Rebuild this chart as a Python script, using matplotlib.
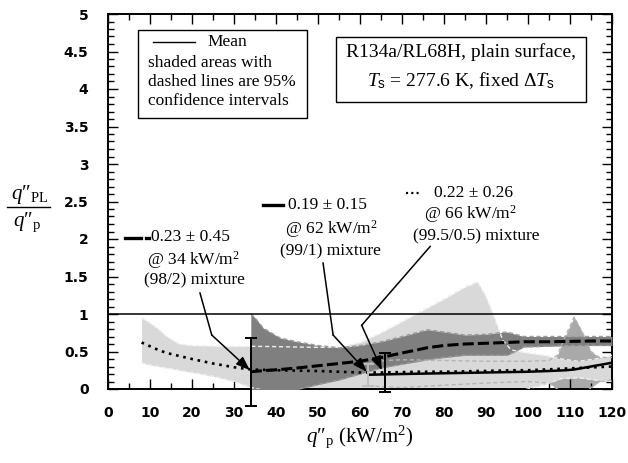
import matplotlib
matplotlib.use("Agg")
import matplotlib.pyplot as plt
from matplotlib.lines import Line2D
from matplotlib.patches import Rectangle
from matplotlib.ticker import MultipleLocator, FuncFormatter

plt.rcParams['mathtext.fontset'] = 'custom'
plt.rcParams['mathtext.rm'] = 'Liberation Serif'
plt.rcParams['mathtext.it'] = 'Liberation Serif:italic'
plt.rcParams['mathtext.bf'] = 'Liberation Serif:bold'
plt.rcParams['mathtext.sf'] = 'Liberation Sans'
plt.rcParams['mathtext.fallback'] = 'stix'
plt.rcParams['font.family'] = ['Liberation Serif', 'DejaVu Sans']
plt.rcParams['lines.scale_dashes'] = False

# ---------------- data ----------------
# (99.5/0.5) mixture - dotted mean, light CI
x_dot = [8, 10, 12, 14, 17, 20, 25, 30, 34, 40, 45, 50, 55, 60, 65, 70, 74, 80, 85, 88,
         90, 92, 93, 94, 96, 100, 104, 108, 112, 116, 120]
mean_dot = [0.62, 0.57, 0.52, 0.48, 0.44, 0.40, 0.34, 0.29, 0.26, 0.25, 0.245, 0.24, 0.23, 0.22,
            0.22, 0.225, 0.23, 0.23, 0.235, 0.24, 0.24, 0.245, 0.245, 0.245, 0.25, 0.25, 0.26,
            0.27, 0.28, 0.29, 0.30]
upper_dot = [0.95, 0.88, 0.80, 0.70, 0.60, 0.58, 0.575, 0.57, 0.57, 0.565, 0.56, 0.555, 0.56,
             0.62, 0.75, 0.90, 1.02, 1.20, 1.36, 1.43, 1.23, 0.95, 0.80, 0.65, 0.52, 0.48, 0.45,
             0.40, 0.37, 0.40, 0.45]
lower_dot = [0.35, 0.32, 0.30, 0.28, 0.25, 0.22, 0.17, 0.10, 0.02, -0.05, -0.08, -0.10, -0.10,
             -0.10, -0.10, -0.10, -0.10, -0.10, -0.10, -0.10, -0.10, -0.10, -0.10, -0.08, -0.05,
             0.00, 0.06, 0.14, 0.15, 0.12, 0.10]

# (98/2) mixture - dashed mean, dark CI
x_dash = [34, 35, 37, 41, 45, 50, 55, 60, 65, 70, 76, 80, 85, 90, 95, 97, 99, 105, 110, 115, 120]
mean_dash = [0.23, 0.235, 0.245, 0.26, 0.28, 0.31, 0.34, 0.37, 0.42, 0.48, 0.55, 0.58, 0.60,
             0.61, 0.62, 0.625, 0.63, 0.63, 0.635, 0.64, 0.64]
upper_dash = [1.00, 0.95, 0.81, 0.68, 0.63, 0.58, 0.55, 0.58, 0.63, 0.70, 0.79, 0.76, 0.72,
              0.73, 0.76, 0.73, 0.70, 0.70, 0.70, 0.70, 0.70]
lower_dash = [-0.10, -0.10, -0.10, -0.05, -0.01, 0.06, 0.12, 0.20, 0.28, 0.33, 0.39, 0.42, 0.45,
              0.45, 0.45, 0.50, 0.56, 0.57, 0.58, 0.58, 0.58]

# (99/1) mixture - solid mean, CI
x_sol = [62, 66, 70, 80, 90, 100, 105, 107, 109, 111, 113, 115, 117, 120]
mean_sol = [0.19, 0.195, 0.20, 0.21, 0.22, 0.23, 0.24, 0.245, 0.25, 0.26, 0.28, 0.30, 0.32, 0.35]
upper_sol = [0.34, 0.38, 0.39, 0.38, 0.37, 0.37, 0.38, 0.45, 0.72, 0.96, 0.75, 0.50, 0.42, 0.42]
lower_sol = [0.04, 0.03, 0.02, 0.05, 0.08, 0.10, 0.08, 0.00, -0.10, -0.12, -0.10, 0.02, 0.10, 0.12]

# highlighted points with error bars
err_x = [34, 62, 66]
err_y = [0.23, 0.19, 0.22]
err_e = [0.45, 0.15, 0.26]
err_col = ['black', '#bdbdbd', 'black']

x_ticks = list(range(0, 121, 10))
y_ticks = [0, 0.5, 1, 1.5, 2, 2.5, 3, 3.5, 4, 4.5, 5]

# ---------------- figure ----------------
W, H = 628, 463
fig = plt.figure(figsize=(W / 100, H / 100), dpi=100)
ax = fig.add_axes([108 / W, 1 - 389 / H, (612 - 108) / W, (389 - 14) / H])


def P(X, Y):
    return (X / W, 1 - Y / H)


LIGHT, MED, DARK = '#d9d9d9', '#a9a9a9', '#7f7f7f'

ax.fill_between(x_sol, lower_sol, upper_sol, color=MED, lw=0, zorder=1)
ax.fill_between(x_dot, lower_dot, upper_dot, color=LIGHT, lw=0, zorder=2)
ax.fill_between(x_dash, lower_dash, upper_dash, color=DARK, lw=0, zorder=3)

for xs, ys, c in [(x_dot, upper_dot, '#efefef'), (x_dot, lower_dot, '#efefef'),
                  (x_sol, upper_sol, '#b5b5b5'), (x_sol, lower_sol, '#b5b5b5'),
                  (x_dash, upper_dash, '#9c9c9c'), (x_dash, lower_dash, '#9c9c9c')]:
    ax.plot(xs, ys, color=c, lw=1.0, dashes=(3, 2), zorder=4)

ax.axhline(1, color='black', lw=1.1, zorder=5)

ax.plot(x_dot, mean_dot, color='black', lw=1.9, dashes=(1.9, 3.4), zorder=6)
ax.plot(x_dash, mean_dash, color='black', lw=2.2, dashes=(8, 3), zorder=6)
ax.plot(x_sol, mean_sol, color='black', lw=1.8, zorder=6)

for xi, yi, ei, ci in zip(err_x, err_y, err_e, err_col):
    cont = ax.errorbar([xi], [yi], yerr=[ei], fmt='none', ecolor=ci, elinewidth=1.4,
                       capsize=4, capthick=1.4, zorder=7)
    for art in cont.get_children():
        art.set_clip_on(False)

# axes styling
ax.set_xlim(0, 120)
ax.set_ylim(0, 5)
ax.xaxis.set_minor_locator(MultipleLocator(5))
ax.yaxis.set_minor_locator(MultipleLocator(0.1))
ax.set_xticks(x_ticks)
ax.set_yticks(y_ticks)
ax.yaxis.set_major_formatter(FuncFormatter(lambda v, p: ('%g' % v)))
ax.tick_params(which='both', direction='in', top=True, right=True, width=1.0, color='black')
ax.tick_params(which='major', length=7.5)
ax.tick_params(which='minor', length=4)
ax.tick_params(axis='y', which='major', pad=14)
ax.tick_params(axis='x', which='major', pad=12)
for lab in ax.get_xticklabels() + ax.get_yticklabels():
    lab.set_fontfamily('DejaVu Sans')
    lab.set_fontweight('bold')
    lab.set_fontsize(10)
for s in ax.spines.values():
    s.set_linewidth(1.4)

# axis labels
QPP = r"$q$″"
fig.text(*P(30, 195), QPP + r"${}_{\mathrm{PL}}$", ha='center', va='center', fontsize=15)
fig.add_artist(Line2D([7 / W, 50 / W], [1 - 207 / H, 1 - 207 / H], color='black', lw=1.0))
fig.text(*P(27, 222), QPP + r"${}_{\mathrm{p}}$", ha='center', va='center', fontsize=15)
fig.text(*P(360, 437), QPP + r"${}_{\mathrm{p}}$ (kW/m$^2$)", ha='center', va='center',
         fontsize=15)

# legend box (top left)
fig.add_artist(Rectangle(P(138, 118), 169 / W, 88 / H, transform=fig.transFigure,
                         fill=False, edgecolor='black', lw=1.0))
fig.add_artist(Line2D([153 / W, 195 / W], [1 - 42 / H, 1 - 42 / H], color='black', lw=1.0))
fs_small = 12.5
fig.text(*P(207, 42), "Mean", ha='left', va='center', fontsize=fs_small)
for txt, Y in [("shaded areas with", 63), ("dashed lines are 95%", 82),
               ("confidence intervals", 101)]:
    fig.text(*P(148, Y), txt, ha='left', va='center', fontsize=fs_small)

# info box (top right)
fig.add_artist(Rectangle(P(336, 102), 250 / W, 65 / H, transform=fig.transFigure,
                         fill=False, edgecolor='black', lw=1.0))
fig.text(*P(461, 52), "R134a/RL68H, plain surface,", ha='center', va='center', fontsize=14)
fig.text(*P(461, 81), r"$T_{\mathsf{s}}$ = 277.6 K, fixed $\Delta T_{\mathsf{s}}$",
         ha='center', va='center', fontsize=14)

# annotation blocks
blocks = [
    (["0.23 ± 0.45", "@ 34 kW/m$^{2}$", "(98/2) mixture"],
     [(190, 237), (193, 260), (194, 280)]),
    (["0.19 ± 0.15", "@ 62 kW/m$^{2}$", "(99/1) mixture"],
     [(327, 205), (331, 229), (330, 251)]),
    (["0.22 ± 0.26", "@ 66 kW/m$^{2}$", "(99.5/0.5) mixture"],
     [(473, 193), (470, 214), (476, 236)]),
]
for lines, pos in blocks:
    for t, (X, Y) in zip(lines, pos):
        fig.text(*P(X, Y), t, ha='center', va='center', fontsize=fs_small)

# line-style keys beside the annotation texts
fig.add_artist(Line2D([125 / W, 141 / W], [1 - 238 / H] * 2, color='black', lw=2.4))
fig.add_artist(Line2D([146 / W, 149 / W], [1 - 238 / H] * 2, color='black', lw=2.4))
fig.add_artist(Line2D([263 / W, 283 / W], [1 - 205 / H] * 2, color='black', lw=2.4))
fig.add_artist(Line2D([406 / W, 420 / W], [1 - 193 / H] * 2, color='black', lw=1.6,
                      dashes=(1.5, 2.3)))

# arrows (start -> elbow -> tip)
arrows = [((21.9, 1.28), (24.7, 0.72), (33.8, 0.25)),
          ((51.2, 1.68), (53.6, 0.72), (61.6, 0.23)),
          ((76.7, 1.90), (60.4, 0.85), (65.2, 0.25))]
for s, e, t in arrows:
    ax.plot([s[0], e[0]], [s[1], e[1]], color='black', lw=1.1, zorder=8)
    ax.annotate('', xy=t, xytext=e,
                arrowprops=dict(arrowstyle='-|>,head_length=0.6,head_width=0.22',
                                color='black', lw=1.1, shrinkA=0, shrinkB=0,
                                mutation_scale=14), zorder=8)

fig.savefig("out.png", dpi=100)
